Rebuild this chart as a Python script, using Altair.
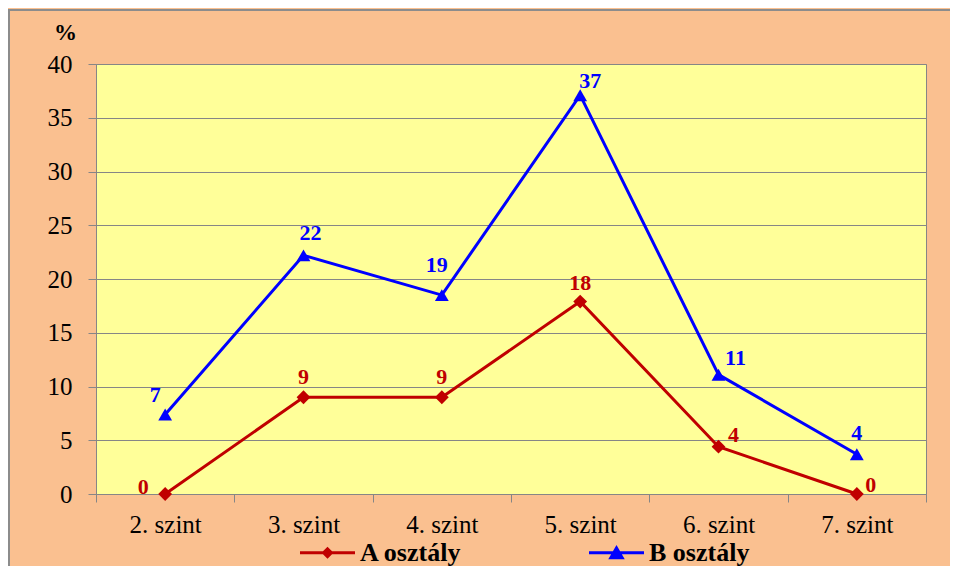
import altair as alt
import pandas as pd

categories = ["2. szint", "3. szint", "4. szint", "5. szint", "6. szint", "7. szint"]
series_names = ["A osztály", "B osztály"]
a_values = [0, 9, 9, 17.9, 4.4, 0]
b_values = [7.4, 22.2, 18.5, 37.1, 11.1, 3.7]
y_ticks = [0, 5, 10, 15, 20, 25, 30, 35, 40]

colors = ["#C00000", "#0000FF"]
FONT = "Liberation Serif"
GRAY = "#868686"

rows = []
for i, cat in enumerate(categories):
    rows.append({"cat": cat, "series": series_names[0], "value": a_values[i]})
    rows.append({"cat": cat, "series": series_names[1], "value": b_values[i]})
df = pd.DataFrame(rows)

# label placement (pixel nudges), style only
label_offsets = {
    (0, 0): (-22, -7), (0, 1): (0, -20), (0, 2): (0, -20), (0, 3): (0, -19), (0, 4): (15, -12), (0, 5): (14, -9),
    (1, 0): (-10, -19), (1, 1): (7, -22), (1, 2): (-5, -30), (1, 3): (10, -14), (1, 4): (17, -17), (1, 5): (0, -21),
}

x_enc = alt.X(
    "cat:N",
    sort=categories,
    bandPosition=0.5,
    scale=alt.Scale(type="band", domain=categories, paddingInner=0, paddingOuter=0),
    axis=alt.Axis(
        title=None, tickBand="extent", grid=False, tickSize=8, tickColor=GRAY, domainColor=GRAY,
        labelFont=FONT, labelFontSize=25, labelColor="#000000", labelPadding=10, labelAngle=0,
    ),
)
y_enc = alt.Y(
    "value:Q",
    scale=alt.Scale(domain=[0, 40], nice=False),
    axis=alt.Axis(
        values=y_ticks, title="%", titleAngle=0, titleX=-31, titleY=-32, titleFont=FONT,
        titleFontSize=23, titleFontWeight="bold", titleAlign="center", titleBaseline="middle",
        titleColor="#000000", labelFont=FONT, labelFontSize=25, labelColor="#000000",
        labelPadding=16, tickSize=8, tickColor=GRAY, domainColor=GRAY, gridColor=GRAY, gridWidth=1,
    ),
)

base = alt.Chart(df)

frame = alt.Chart(alt.Data(values=[{}])).mark_rect(fill=None, stroke="#8c8c8c", strokeWidth=2).encode(
    x=alt.value(-87), x2=alt.value(900), y=alt.value(-54), y2=alt.value(560)
)

lines = base.mark_line(strokeWidth=3).encode(
    x=x_enc, y=y_enc,
    color=alt.Color("series:N", scale=alt.Scale(domain=series_names, range=colors), legend=None),
)

points = base.mark_point(filled=True, opacity=1, size=190).encode(
    x=x_enc, y=y_enc,
    color=alt.Color("series:N", scale=alt.Scale(domain=series_names, range=colors), legend=None),
    shape=alt.Shape("series:N", scale=alt.Scale(domain=series_names, range=["diamond", "triangle-up"]), legend=None),
)

text_layers = []
for (s, i), (dx, dy) in label_offsets.items():
    text_layers.append(
        base.transform_filter(
            (alt.datum.series == series_names[s]) & (alt.datum.cat == categories[i])
        ).mark_text(
            dx=dx, dy=dy, font=FONT, fontSize=22, fontWeight="bold", color=colors[s],
            align="center", baseline="middle",
        ).encode(x=x_enc, y=y_enc, text=alt.Text("value:Q", format=".0f"))
    )

path_a = "M-1,-0.055L1,-0.055L1,0.055L-1,0.055Z M0,-0.22L0.22,0L0,0.22L-0.22,0Z"
path_b = "M-1,-0.055L1,-0.055L1,0.055L-1,0.055Z M0,-0.28L0.3,0.24L-0.3,0.24Z"

leg = alt.Legend(
    title=None, orient="none", legendX=204, legendY=461, direction="horizontal",
    symbolSize=3025, symbolStrokeWidth=0, symbolOpacity=1, labelFont=FONT, labelFontSize=26,
    labelFontWeight="bold", labelColor="#000000", labelOffset=5, columnPadding=127, padding=0,
    labelLimit=300,
)

legend_layer = base.transform_filter("false").transform_calculate(
    legend_series="datum.series"
).mark_point(filled=True, strokeWidth=0).encode(
    x=x_enc, y=y_enc,
    color=alt.Color("legend_series:N", scale=alt.Scale(domain=series_names, range=colors), legend=leg),
    shape=alt.Shape("legend_series:N", scale=alt.Scale(domain=series_names, range=[path_a, path_b]), legend=leg),
)

chart = alt.layer(frame, lines, points, *text_layers, legend_layer).resolve_scale(
    color="independent", shape="independent"
).resolve_legend(color="independent", shape="independent").properties(
    width=830, height=430,
    autosize=alt.AutoSizeParams(type="none"),
    padding={"left": 88, "top": 56, "right": 24, "bottom": 72},
    background="#FAC090",
).configure_view(fill="#FFFF99", stroke=GRAY, strokeWidth=1)

chart.save("out.html", embed_options={"renderer": "svg", "actions": False})
